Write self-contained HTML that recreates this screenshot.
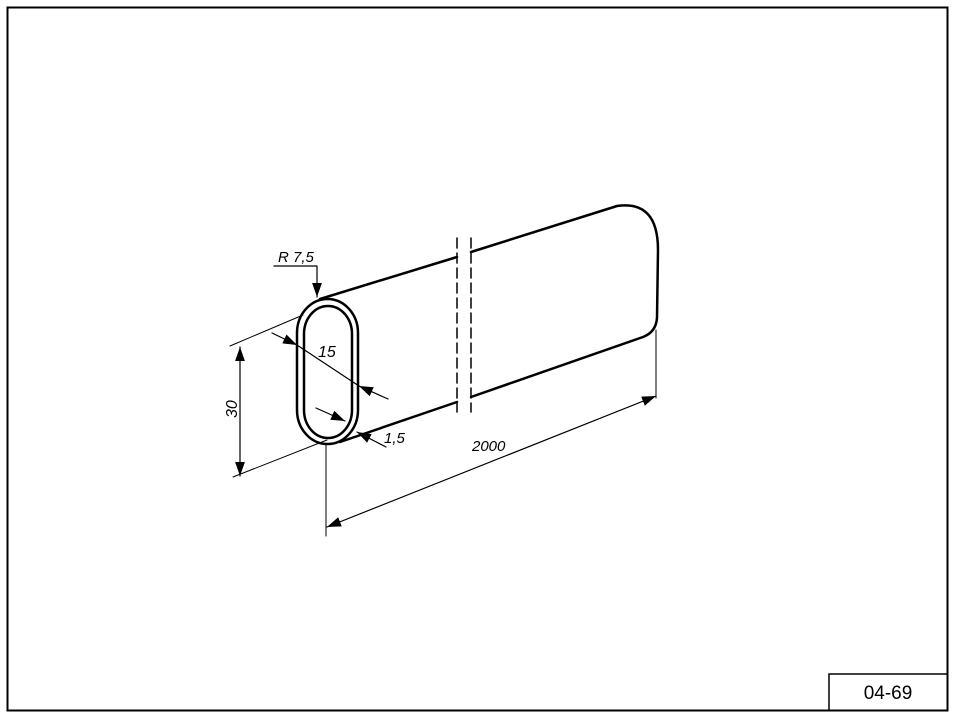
<!DOCTYPE html>
<html><head><meta charset="utf-8"><style>
html,body{margin:0;padding:0;background:#fff;}
svg{display:block;}
text{font-family:"Liberation Sans",sans-serif;}
</style></head><body>
<svg width="957" height="719" viewBox="0 0 957 719" xmlns="http://www.w3.org/2000/svg">
<defs>
<marker id="a" viewBox="0 0 10 10" refX="10" refY="5" markerWidth="14" markerHeight="14" markerUnits="userSpaceOnUse" orient="auto-start-reverse">
<path d="M0,1.5 L10,5 L0,8.5 z" fill="#000"/>
</marker>
</defs>
<rect x="7.5" y="7.5" width="940" height="703" fill="none" stroke="#000" stroke-width="2"/>
<rect x="829" y="674" width="118.5" height="36.5" fill="none" stroke="#000" stroke-width="1.5"/>
<text x="888" y="699" font-size="19" text-anchor="middle">04-69</text>

<g fill="none" stroke="#000" stroke-linecap="round" stroke-linejoin="round">
<rect x="297" y="299" width="61" height="145" rx="30.5" ry="34" stroke-width="2.5"/>
<rect x="304" y="306" width="48" height="132" rx="24" ry="28" stroke-width="2.5"/>
<path d="M320,299 L457,257" stroke-width="2.5"/>
<path d="M340,442 L457,402" stroke-width="2.5"/>
<path d="M471,252 L617,206 Q658,200 658,250 L657,318 Q656,332 643,337 L471,397" stroke-width="2.5"/>
<path d="M457,238 L457,412 M471,238 L471,412" stroke-width="1.5" stroke-dasharray="10,5"/>
<path d="M230,346 L303,315 M233,477 L327,440 M326,444 L326,536 M656,330 L656,398" stroke-width="1"/>
<path d="M240,347 L240,476" stroke-width="1.2" marker-start="url(#a)" marker-end="url(#a)"/>
<path d="M327,527 L656,396" stroke-width="1.2" marker-start="url(#a)" marker-end="url(#a)"/>
<path d="M272,333 L297,345" stroke-width="1.2" marker-end="url(#a)"/>
<path d="M297,345 L359,386" stroke-width="1.2"/>
<path d="M388,399 L359,386" stroke-width="1.2" marker-end="url(#a)"/>
<path d="M316,408 L345,421" stroke-width="1.2" marker-end="url(#a)"/>
<path d="M386,447 L357,432" stroke-width="1.2" marker-end="url(#a)"/>
<path d="M274,266 L317,266 L317,297" stroke-width="1.2" marker-end="url(#a)"/>
</g>
<g font-style="italic" font-size="15">
<text x="278" y="262">R 7,5</text>
<text x="318" y="357" font-size="16">15</text>
<text x="384" y="443">1,5</text>
<text x="472" y="451">2000</text>
<text x="237" y="418" transform="rotate(-90 237 418)" font-size="16">30</text>
</g>
</svg>
</body></html>
